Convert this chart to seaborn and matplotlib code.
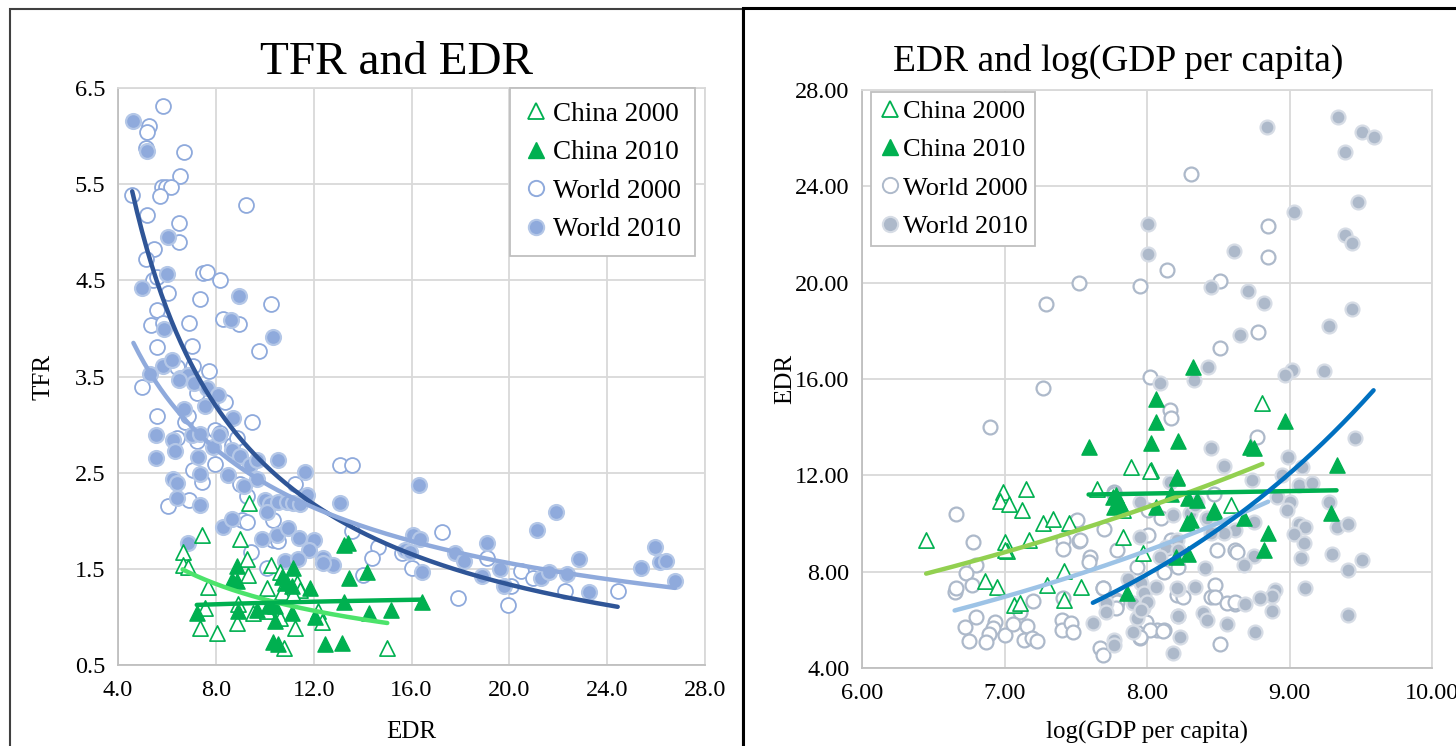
import numpy as np
import pandas as pd
import matplotlib
matplotlib.use("Agg")
import matplotlib.pyplot as plt
import seaborn as sns
from matplotlib.lines import Line2D
from matplotlib.patches import Rectangle
from matplotlib.ticker import FormatStrFormatter

sns.set_style("white")
plt.rcParams['font.family'] = ['Liberation Serif', 'DejaVu Serif']
plt.rcParams['text.color'] = 'black'
plt.rcParams['axes.labelcolor'] = 'black'
plt.rcParams['axes.titlecolor'] = 'black'

# ---------------- LEFT PANEL DATA: TFR vs EDR ----------------
w00_edr = [5.83, 5.27, 5.17, 5.15, 6.70, 6.53, 5.79, 5.95, 6.15, 5.73, 4.58, 9.22, 5.17, 6.51, 6.49,
           5.47, 5.14, 5.44, 5.58, 7.46, 7.63, 8.17, 6.06, 10.24, 7.35, 5.61, 5.34, 5.85, 6.90, 8.28,
           8.95, 9.78, 5.61, 7.01, 6.40, 7.08, 7.73,
           4.97, 5.61, 6.74, 6.87, 7.21, 8.38, 9.49, 7.97, 8.17, 6.42, 7.22, 8.65, 8.85, 7.97, 7.08,
           7.42, 8.99, 9.26, 6.92, 6.03, 13.08, 13.58, 9.06, 9.26, 10.35, 10.35, 10.55, 9.44, 13.55,
           14.64, 14.37, 14.03, 15.60, 16.00, 10.08, 11.24,
           17.23, 19.07, 20.48, 20.98, 20.07, 17.92, 19.96, 22.27, 24.43]
w00_tfr = [6.31, 6.11, 6.04, 5.88, 5.83, 5.58, 5.47, 5.47, 5.47, 5.38, 5.39, 5.28, 5.18, 5.10, 4.90,
           4.83, 4.72, 4.50, 4.53, 4.58, 4.59, 4.50, 4.37, 4.25, 4.31, 4.19, 4.04, 4.06, 4.06, 4.10,
           4.05, 3.77, 3.81, 3.82, 3.60, 3.61, 3.56,
           3.39, 3.09, 3.03, 3.09, 3.33, 3.24, 3.03, 2.94, 2.91, 2.86, 2.83, 2.79, 2.86, 2.59, 2.53,
           2.40, 2.38, 2.26, 2.22, 2.15, 2.58, 2.58, 2.01, 1.99, 2.01, 1.80, 1.79, 1.68, 1.89,
           1.73, 1.61, 1.44, 1.66, 1.51, 1.51, 2.38,
           1.88, 1.61, 1.48, 1.40, 1.32, 1.20, 1.12, 1.27, 1.27]

w10_edr = [4.63, 5.17, 6.06, 5.99, 4.98, 8.96, 8.61, 10.32, 5.89, 5.31, 5.85, 6.20, 6.53, 6.87, 6.49,
           7.11, 7.63, 8.10, 6.70, 7.56, 8.71, 5.55, 6.26, 7.01, 7.35, 6.33, 7.90, 8.13, 8.65, 5.55,
           7.28, 8.99, 9.40, 9.67, 10.55, 7.35, 8.49, 9.67, 11.65, 6.26, 6.42, 9.16, 6.40, 7.35, 10.01,
           10.21, 10.08, 10.55, 10.90, 11.17, 11.44, 11.71, 13.08, 16.31, 8.31, 8.67, 9.87, 10.49, 10.96,
           11.41, 12.03, 11.82, 6.87, 10.83, 11.37, 12.40, 12.80, 12.40, 16.07, 16.35, 15.73, 15.94,
           16.41, 17.78, 18.15, 19.07, 18.87, 19.62, 19.78, 21.12, 21.91, 21.28, 21.62, 22.37, 22.85,
           23.26, 25.37, 25.95, 26.16, 26.39, 26.77]
w10_tfr = [6.16, 5.85, 4.95, 4.57, 4.42, 4.34, 4.09, 3.91, 3.99, 3.53, 3.61, 3.67, 3.48, 3.52, 3.46,
           3.43, 3.38, 3.31, 3.16, 3.19, 3.07, 2.89, 2.84, 2.89, 2.90, 2.73, 2.77, 2.89, 2.74, 2.65,
           2.66, 2.67, 2.58, 2.63, 2.63, 2.49, 2.48, 2.43, 2.51, 2.43, 2.39, 2.36, 2.24, 2.16, 2.22,
           2.17, 2.09, 2.20, 2.20, 2.18, 2.17, 2.27, 2.18, 2.37, 1.93, 2.02, 1.81, 1.85, 1.92,
           1.82, 1.80, 1.70, 1.77, 1.58, 1.60, 1.61, 1.54, 1.56, 1.85, 1.81, 1.70, 1.68,
           1.47, 1.66, 1.58, 1.77, 1.43, 1.50, 1.32, 1.90, 2.09, 1.40, 1.47, 1.45, 1.60,
           1.26, 1.51, 1.73, 1.57, 1.58, 1.37]

c00_edr = [9.36, 7.45, 8.99, 6.67, 6.64, 6.87, 9.26, 9.33, 10.24, 7.69, 10.08, 10.62, 10.83, 11.31, 11.44,
           10.69, 11.17, 7.56, 8.92, 9.53, 10.08, 12.19, 12.33, 10.62, 8.85, 7.35, 8.03, 11.24, 10.79, 15.01]
c00_tfr = [2.18, 1.85, 1.81, 1.68, 1.54, 1.52, 1.60, 1.44, 1.54, 1.31, 1.30, 1.47, 1.35, 1.35, 1.28,
           1.26, 1.24, 1.09, 1.13, 1.04, 1.06, 1.06, 0.95, 0.99, 0.94, 0.88, 0.83, 0.88, 0.68, 0.68]

c10_edr = [13.22, 13.42, 8.85, 11.17, 8.67, 8.88, 10.69, 10.90, 11.10, 11.85, 13.45, 14.17, 13.22, 10.15,
           10.42, 8.92, 11.10, 12.05, 7.22, 9.67, 14.28, 15.15, 16.41, 10.42, 10.35, 10.55, 12.46, 13.17]
c10_tfr = [1.75, 1.77, 1.53, 1.51, 1.38, 1.37, 1.42, 1.35, 1.32, 1.30, 1.40, 1.47, 1.16, 1.11,
           1.11, 1.06, 1.04, 1.00, 1.04, 1.07, 1.04, 1.07, 1.16, 0.96, 0.74, 0.72, 0.72, 0.73]

# ---------------- RIGHT PANEL DATA: EDR vs log(GDP per capita) ----------------
rw00_gdp = [7.52, 7.29, 7.95, 8.02, 8.31, 8.85, 8.85, 8.14, 8.51, 8.78, 8.51, 8.16, 8.17, 8.77, 8.62, 8.63,
            8.48, 8.45, 8.48, 8.62, 8.12, 8.51, 7.27, 6.90, 7.77, 8.01, 6.66, 7.50, 7.70, 6.78, 7.41, 7.41,
            7.52, 7.79, 7.60, 7.59, 6.80, 6.73, 6.77, 6.65, 6.66, 7.41, 7.11, 7.20, 7.69, 7.78, 7.78, 7.67,
            7.69, 6.72, 6.80, 6.93, 6.92, 6.89, 7.00, 7.06, 7.16, 6.75, 6.87, 7.14, 7.19, 7.23, 7.40, 7.40,
            7.47, 7.48, 7.98, 7.95, 8.07, 7.77, 8.47, 8.10, 7.51, 7.53, 8.01, 8.17, 8.14, 7.93, 8.12, 8.22,
            8.49, 7.69, 7.79, 7.78, 8.21, 8.25, 8.56, 8.62, 7.99, 8.02, 8.11, 7.95]
rw00_edr = [20.00, 19.11, 19.87, 16.09, 24.52, 22.35, 21.08, 20.53, 20.08, 17.96, 17.30, 14.71, 14.37, 13.58,
            8.90, 8.83, 7.44, 6.96, 6.96, 6.65, 5.57, 4.98, 15.61, 14.02, 11.29, 10.56, 10.38, 10.12, 9.77,
            9.22, 9.31, 8.95, 9.28, 8.90, 8.62, 8.41, 8.27, 7.93, 7.44, 7.17, 7.31, 6.89, 6.33, 6.79, 7.33,
            6.82, 6.54, 4.81, 4.54, 5.71, 6.10, 5.92, 5.67, 5.41, 5.37, 5.82, 5.74, 5.13, 5.09, 5.16, 5.23,
            5.12, 6.00, 5.58, 5.85, 5.50, 5.58, 5.23, 5.58, 11.22, 11.22, 10.21, 10.14, 9.31, 9.52, 9.31,
            8.97, 8.20, 8.00, 8.20, 8.90, 7.31, 6.75, 6.48, 7.03, 6.96, 6.68, 6.75, 5.92, 5.58, 5.55, 5.30]

rw10_gdp = [8.01, 8.01, 8.84, 9.34, 9.51, 9.59, 9.39, 9.48, 9.03, 9.39, 9.44, 8.61, 8.45, 8.71, 8.82, 8.65,
            8.43, 9.44, 9.28, 9.02, 8.97, 9.24, 8.33, 8.09, 9.46, 8.45, 8.99, 8.54, 9.09, 8.95, 8.74, 8.16,
            9.07, 9.16, 8.91, 9.00, 8.98, 9.28, 8.35, 8.30, 8.18, 8.43, 8.75, 9.07, 9.11, 9.33, 9.41, 8.62,
            8.54, 9.03, 9.10, 8.75, 8.68, 9.08, 9.30, 9.51, 9.41, 8.41, 9.11, 8.34, 8.22, 8.90, 8.88, 8.79,
            8.69, 8.88, 8.39, 8.42, 8.22, 8.56, 9.41, 8.76, 8.23, 8.18, 7.95, 7.95, 7.71, 7.71, 7.62, 7.90,
            7.98, 7.97, 7.93, 7.90, 7.77, 7.77, 8.34, 8.42, 8.45, 8.13, 8.09, 8.21, 8.22, 7.87, 7.96, 7.98,
            8.00, 8.06, 8.21, 7.96, 8.22]
rw10_edr = [22.43, 21.19, 26.45, 26.89, 26.24, 26.06, 25.44, 23.34, 22.92, 21.98, 21.63, 21.33, 19.81,
            19.67, 19.14, 17.83, 16.48, 18.91, 18.20, 16.37, 16.16, 16.33, 15.96, 15.82, 13.54, 13.12,
            12.77, 12.38, 12.36, 12.01, 11.80, 11.73, 11.60, 11.67, 11.11, 10.90, 10.56, 10.90, 10.90,
            10.42, 10.35, 10.14, 10.07, 10.00, 9.86, 9.84, 10.00, 9.73, 9.62, 9.55, 9.18, 8.65, 8.27, 8.58,
            8.73, 8.48, 8.07, 8.14, 7.33, 7.35, 7.26, 7.24, 6.99, 6.89, 6.65, 6.38, 6.27, 5.99, 6.16, 5.82,
            6.20, 5.50, 5.27, 4.61, 10.90, 9.43, 6.68, 6.33, 5.85, 6.68, 7.13, 6.48, 6.09, 5.50, 5.16,
            4.95, 10.77, 10.21, 9.59, 9.04, 8.62, 9.31, 8.90, 7.68, 7.51, 7.10, 6.75, 7.38, 7.31, 6.41, 6.17]

rc00_gdp = [8.81, 8.03, 8.59, 7.89, 8.02, 6.99, 6.97, 7.03, 7.15, 7.12, 7.65, 7.83, 7.27, 7.34, 7.45,
            6.45, 7.00, 7.02, 7.00, 7.17, 7.83, 7.97, 6.86, 6.95, 7.30, 7.42, 7.54, 7.42, 7.07, 7.11]
rc00_edr = [14.99, 12.22, 10.77, 12.36, 12.19, 11.32, 10.95, 10.80, 11.42, 10.56, 11.42, 10.56, 10.03,
            10.17, 10.03, 9.31, 9.24, 8.87, 8.90, 9.31, 9.45, 8.79, 7.62, 7.37, 7.44, 8.04, 7.35, 6.82,
            6.61, 6.68]

rc10_gdp = [8.32, 8.06, 8.06, 8.97, 8.22, 8.03, 8.72, 8.75, 9.33, 8.21, 9.29, 8.47, 8.68, 8.85, 8.82,
            7.59, 7.78, 7.77, 7.82, 7.86, 8.21, 7.76, 8.06, 8.17, 8.29, 8.35, 8.47, 8.28, 8.31, 8.29, 8.20]
rc10_edr = [16.48, 15.15, 14.23, 14.27, 13.44, 13.33, 13.16, 13.12, 12.43, 11.87, 10.42, 10.49, 10.21,
            9.62, 8.90, 13.19, 11.20, 10.70, 10.77, 7.10, 11.94, 11.09, 10.67, 11.22, 11.04, 10.97,
            10.56, 10.01, 10.14, 8.73, 8.62]

left_xticks = [4, 8, 12, 16, 20, 24, 28]
left_yticks = [0.5, 1.5, 2.5, 3.5, 4.5, 5.5, 6.5]
right_xticks = [6, 7, 8, 9, 10]
right_yticks = [4, 8, 12, 16, 20, 24, 28]
legend_labels = ["China 2000", "China 2010", "World 2000", "World 2010"]

# ---------------- FIGURE ----------------
fig = plt.figure(figsize=(14.56, 7.46), dpi=100)
axL = fig.add_axes([118/1456, 1-665/746, 587/1456, 577/746])
axR = fig.add_axes([862/1456, 1-668/746, 570/1456, 578/746])

GRID = '#D9D9D9'
TXT = 17.5


def style_axes(ax, xt, yt, fmt):
    ax.set_xticks(xt)
    ax.set_yticks(yt)
    ax.set_xlim(xt[0], xt[-1])
    ax.set_ylim(yt[0], yt[-1])
    ax.xaxis.set_major_formatter(FormatStrFormatter(fmt))
    ax.yaxis.set_major_formatter(FormatStrFormatter(fmt))
    ax.grid(True, color=GRID, lw=1.3, zorder=0)
    ax.set_axisbelow(True)
    for s in ax.spines.values():
        s.set_color(GRID)
        s.set_linewidth(1.3)
    ax.spines['bottom'].set_color('#BFBFBF')
    ax.spines['left'].set_color('#BFBFBF')
    ax.tick_params(axis='both', length=0, labelsize=TXT, colors='black')
    ax.tick_params(axis='x', pad=11)
    ax.tick_params(axis='y', pad=9)


def scatter(ax, x, y, marker, face, edge, lw, s, z):
    df = pd.DataFrame({'x': x, 'y': y})
    sns.scatterplot(data=df, x='x', y='y', ax=ax, marker=marker, s=s, facecolor=face,
                    edgecolor=edge, linewidth=lw, zorder=z, legend=False)


def power_fit(ax, x, y, color, lw=3.2):
    x = np.asarray(x); y = np.asarray(y)
    b, ln_a = np.polyfit(np.log(x), np.log(y), 1)
    xs = np.linspace(x.min(), x.max(), 200)
    sns.lineplot(x=xs, y=np.exp(ln_a) * xs ** b, ax=ax, color=color, lw=lw, zorder=6, legend=False)


def expo_fit(ax, x, y, color, lw=3.2):
    x = np.asarray(x); y = np.asarray(y)
    b, ln_a = np.polyfit(x, np.log(y), 1)
    xs = np.linspace(x.min(), x.max(), 200)
    sns.lineplot(x=xs, y=np.exp(ln_a + b * xs), ax=ax, color=color, lw=lw, zorder=6, legend=False)


# ---- Left ----
L_W = '#8FAADC'; L_WE = '#B4C7E7'; GREEN = '#00B050'
scatter(axL, w00_edr, w00_tfr, 'o', 'white', L_W, 1.3, 115, 3)
scatter(axL, w10_edr, w10_tfr, 'o', L_W, L_WE, 1.6, 115, 4)
scatter(axL, c00_edr, c00_tfr, '^', 'white', GREEN, 1.2, 120, 5)
scatter(axL, c10_edr, c10_tfr, '^', GREEN, GREEN, 1.0, 120, 5)
power_fit(axL, c00_edr, c00_tfr, '#4CE36B')
power_fit(axL, c10_edr, c10_tfr, GREEN)
power_fit(axL, w00_edr, w00_tfr, '#2F5597')
power_fit(axL, w10_edr, w10_tfr, L_W)
style_axes(axL, left_xticks, left_yticks, '%.1f')
axL.set_xlabel('EDR', fontsize=18, labelpad=14)
axL.set_ylabel('TFR', fontsize=18, labelpad=15)
axL.set_title('TFR and EDR', fontsize=34, pad=10, x=0.475)

# ---- Right ----
R_W = '#ADB9CA'; R_WE = '#D6DCE5'
scatter(axR, rw00_gdp, rw00_edr, 'o', 'white', R_W, 1.6, 100, 3)
scatter(axR, rw10_gdp, rw10_edr, 'o', R_W, R_WE, 1.6, 100, 4)
scatter(axR, rc00_gdp, rc00_edr, '^', 'white', GREEN, 1.2, 120, 5)
scatter(axR, rc10_gdp, rc10_edr, '^', GREEN, GREEN, 1.0, 120, 5)
expo_fit(axR, rc00_gdp, rc00_edr, '#92D050')
expo_fit(axR, rc10_gdp, rc10_edr, GREEN)
expo_fit(axR, rw00_gdp, rw00_edr, '#9DC3E6')
expo_fit(axR, rw10_gdp, rw10_edr, '#0070C0')
style_axes(axR, right_xticks, right_yticks, '%.2f')
axR.set_xlabel('log(GDP per capita)', fontsize=18, labelpad=12)
axR.set_ylabel('EDR', fontsize=18, labelpad=-1)
axR.set_title('EDR and log(GDP per capita)', fontsize=27, pad=14, x=0.449)


def make_handles(wcol, wedge):
    return [
        Line2D([], [], ls='none', marker='^', ms=11, mfc='white', mec=GREEN, mew=1.3),
        Line2D([], [], ls='none', marker='^', ms=11, mfc=GREEN, mec=GREEN),
        Line2D([], [], ls='none', marker='o', ms=11, mfc='white', mec=wcol, mew=1.4),
        Line2D([], [], ls='none', marker='o', ms=11, mfc=wcol, mec=wedge, mew=1.5),
    ]


legend_cfg = [
    (axL, 'upper right', (0.983, 1.0), L_W, L_WE, 19.5, 0.9, 0.2, 0.5, 0.5),
    (axR, 'upper left', (0.016, 0.997), R_W, R_WE, 19.0, 0.8, 0.1, 0.56, 0.3),
]
for ax, loc, anchor, wc, we, fs, hl, htp, ls_, bp in legend_cfg:
    leg = ax.legend(make_handles(wc, we), legend_labels, loc=loc, bbox_to_anchor=anchor,
                    fontsize=fs, frameon=True, fancybox=False, framealpha=1,
                    edgecolor='#BFBFBF', borderaxespad=0, handlelength=hl,
                    handletextpad=htp, labelspacing=ls_, borderpad=bp)
    leg.get_frame().set_linewidth(1.3)
    leg.set_zorder(10)

# chart borders
fig.add_artist(Rectangle((10/1456, -0.01), (743-10)/1456, 1.01 - 9/746, transform=fig.transFigure,
                         fill=False, edgecolor='#404040', lw=1.5))
fig.add_artist(Rectangle((743/1456, -0.01), 0.6, 1.01 - 8/746, transform=fig.transFigure,
                         fill=False, edgecolor='black', lw=2.2))

fig.savefig('out.png', dpi=100)
